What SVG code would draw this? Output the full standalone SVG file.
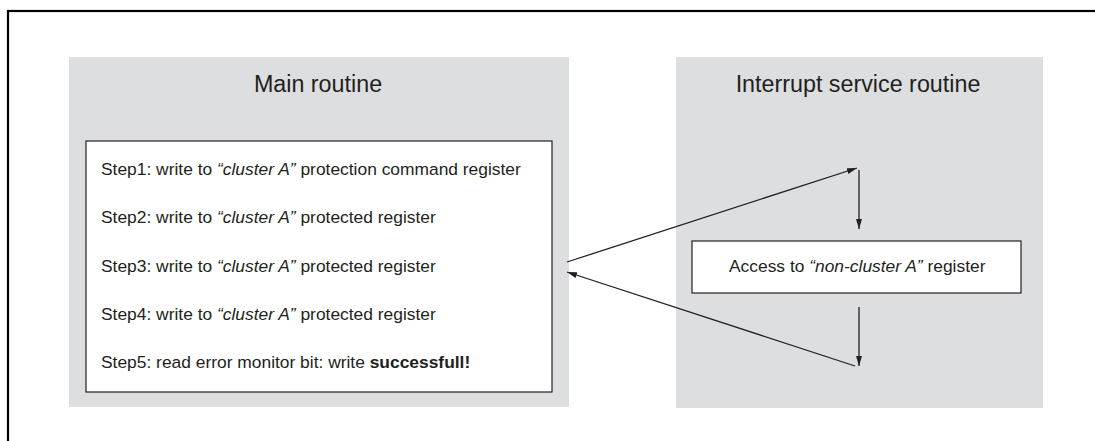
<svg xmlns="http://www.w3.org/2000/svg" width="1095" height="441" viewBox="0 0 1095 441">
<defs>
<marker id="ah" viewBox="0 0 10 6" refX="10" refY="3" markerWidth="10" markerHeight="6" markerUnits="userSpaceOnUse" orient="auto">
<path d="M0,0 L10,3 L0,6 z" fill="#231f20"/>
</marker>
<style>
.panel{fill:#dddee0;}
.box{fill:#ffffff;stroke:#231f20;stroke-width:1.2;}
.title{font-family:"Liberation Sans",Arial,sans-serif;font-size:23.3px;fill:#231f20;text-anchor:middle;}
.t{font-family:"Liberation Sans",Arial,sans-serif;font-size:17.4px;fill:#231f20;}
.conn{stroke:#231f20;stroke-width:1.3;fill:none;marker-end:url(#ah);}
</style>
</defs>
<rect x="0" y="0" width="1095" height="441" fill="#ffffff"/>
<rect x="8" y="11" width="1100" height="440" fill="none" stroke="#000" stroke-width="2.2"/>
<g id="main-routine">
<rect class="panel" x="69" y="57" width="500" height="350"/>
<text class="title" x="318" y="92">Main routine</text>
<rect class="box" x="86" y="141" width="466" height="251"/>
<text class="t" x="101" y="175">Step1: write to <tspan font-style="italic">“cluster A”</tspan> protection command register</text>
<text class="t" x="101" y="223">Step2: write to <tspan font-style="italic">“cluster A”</tspan> protected register</text>
<text class="t" x="101" y="272">Step3: write to <tspan font-style="italic">“cluster A”</tspan> protected register</text>
<text class="t" x="101" y="320">Step4: write to <tspan font-style="italic">“cluster A”</tspan> protected register</text>
<text class="t" x="101" y="368">Step5: read error monitor bit: write <tspan font-weight="bold">successfull!</tspan></text>
</g>
<g id="isr">
<rect class="panel" x="676" y="57" width="367" height="351"/>
<text class="title" x="858" y="92">Interrupt service routine</text>
</g>
<g id="access-box">
<rect class="box" x="692" y="241" width="329" height="52"/>
<text class="t" x="729" y="272">Access to <tspan font-style="italic">“non-cluster A”</tspan> register</text>
</g>
<g id="connectors">
<line class="conn" x1="567" y1="262" x2="857" y2="168"/>
<line class="conn" x1="859" y1="170" x2="859" y2="229"/>
<line class="conn" x1="859" y1="307" x2="859" y2="366"/>
<line class="conn" x1="855" y1="366" x2="567" y2="272"/>
</g>
</svg>
